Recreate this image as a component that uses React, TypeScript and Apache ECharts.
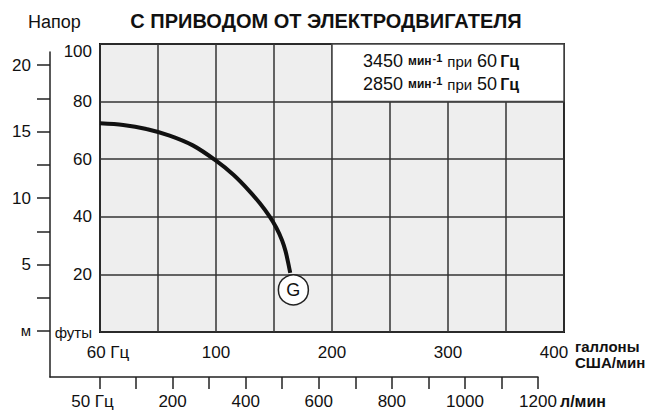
import React, { useEffect, useRef } from "react";
import * as echarts from "echarts";

const FONT = '"Liberation Sans", Arial, Helvetica, sans-serif';

// Upper (60 Hz) scales
const gallonLabelValues = [0, 100, 200, 300, 400];
const feetLabelValues = [0, 20, 40, 60, 80, 100];
// Lower / left (50 Hz) scales
const literTicks = [0, 100, 200, 300, 400, 500, 600, 700, 800, 900, 1000, 1100, 1200];
const literLabels = [0, 200, 400, 600, 800, 1000, 1200];
const meterTicks = [0, 2.5, 5, 7.5, 10, 12.5, 15, 17.5, 20];
const meterLabels = [0, 5, 10, 15, 20];

// Pump curve G (US gal/min, feet)
const curveGallons = [0, 20, 40, 60, 80, 100, 115, 128, 138, 146, 152, 157, 160, 162.5, 164];
const curveFeet = [72.5, 71.9, 70.5, 68.2, 64.8, 59.5, 54.6, 49.3, 44.6, 40.2, 36.2, 31.8, 28, 23.5, 20.5];
const curveName = "G";
const curveMarker = [166.7, 14.6];

const legendLines = [
  { rpm: "3450", hz: "60" },
  { rpm: "2850", hz: "50" },
];

export default function App() {
  const ref = useRef<HTMLDivElement>(null);
  useEffect(() => {
    if (!ref.current) return;
    const chart = echarts.init(ref.current, null, { renderer: "svg" });
    const txt = { fontFamily: FONT, color: "#111" };
    const legendText = legendLines
      .map((l) => `{n|${l.rpm}} {u|мин}{s|-1} {p|при} {n|${l.hz}}{h|Гц}`)
      .join("\n");
    const option: any = {
      animation: false,
      backgroundColor: "#ffffff",
      textStyle: { fontFamily: FONT },
      grid: [
        { left: 100, right: 85, top: 44, bottom: 78, show: true, backgroundColor: "#eeeeee", borderColor: "#111", borderWidth: 2 },
        { left: 50, right: 111, top: 52, bottom: 33, show: false },
      ],
      xAxis: [
        {
          gridIndex: 0, type: "value", min: 0, max: 400, interval: 50,
          axisLine: { show: false }, axisTick: { show: false },
          splitLine: { show: true, lineStyle: { color: "#333", width: 1.5 } },
          axisLabel: {
            ...txt, fontSize: 17, margin: 12,
            formatter: (v: number) => {
              if (!gallonLabelValues.includes(v)) return "";
              if (v === 0) return "{a|60 Гц}";
              if (v === 400) return "{b|400}";
              return String(v);
            },
            rich: {
              a: { ...txt, fontSize: 17, padding: [0, 0, 0, 16] },
              b: { ...txt, fontSize: 17, padding: [0, 20, 0, 0] },
            },
          },
        },
        {
          gridIndex: 1, type: "value", min: -135.5, max: 1200, position: "bottom",
          axisLine: { show: true, onZero: false, lineStyle: { color: "#222", width: 1.5 } },
          axisTick: { show: true, customValues: literTicks, length: 12, lineStyle: { color: "#222", width: 1.5 } },
          splitLine: { show: false },
          axisLabel: {
            ...txt, fontSize: 17, margin: 16, customValues: literLabels,
            formatter: (v: number) => (v === 0 ? "{a|50 Гц}" : String(v)),
            rich: { a: { ...txt, fontSize: 17, padding: [0, 14, 0, 0] } },
          },
        },
      ],
      yAxis: [
        {
          gridIndex: 0, type: "value", min: 0, max: 100, interval: 20,
          axisLine: { show: false }, axisTick: { show: false },
          splitLine: { show: true, lineStyle: { color: "#333", width: 1.5 } },
          axisLabel: {
            ...txt, fontSize: 17, margin: 8,
            formatter: (v: number) => {
              if (!feetLabelValues.includes(v)) return "";
              if (v === 0) return "{f|футы}";
              if (v === 100) return "{t|100}";
              return String(v);
            },
            rich: {
              f: { ...txt, fontSize: 15 },
              t: { ...txt, fontSize: 17, padding: [14, 0, 0, 0] },
            },
          },
        },
        {
          gridIndex: 1, type: "value", min: -3.46, max: 20.98, position: "left",
          axisLine: { show: true, onZero: false, lineStyle: { color: "#222", width: 1.5 } },
          axisTick: { show: true, customValues: meterTicks, length: 13, lineStyle: { color: "#222", width: 1.5 } },
          splitLine: { show: false },
          axisLabel: {
            ...txt, fontSize: 17, margin: 19, customValues: meterLabels,
            formatter: (v: number) => (v === 0 ? "{m|м}" : String(v)),
            rich: { m: { ...txt, fontSize: 15 } },
          },
        },
      ],
      series: [
        {
          type: "line", name: curveName, xAxisIndex: 0, yAxisIndex: 0,
          data: curveGallons.map((g, i) => [g, curveFeet[i]]),
          smooth: 0.3, symbol: "none", z: 3,
          lineStyle: { color: "#111", width: 4 },
          markArea: {
            silent: true,
            itemStyle: { color: "#ffffff", borderColor: "#444", borderWidth: 1.5 },
            label: {
              show: true, position: "inside", ...txt, fontSize: 18, lineHeight: 23,
              padding: [0, 14, 0, 0],
              formatter: legendText,
              rich: {
                n: { ...txt, fontSize: 18, lineHeight: 23 },
                u: { ...txt, fontSize: 12, fontWeight: "bold", lineHeight: 23 },
                s: { ...txt, fontSize: 11, fontWeight: "bold", lineHeight: 11, verticalAlign: "top", padding: [3, 0, 0, 1] },
                p: { ...txt, fontSize: 15, lineHeight: 23 },
                h: { ...txt, fontSize: 16, fontWeight: "bold", lineHeight: 23, padding: [0, 0, 0, 3] },
              },
            },
            data: [[{ coord: [200, 80] }, { coord: [400, 100] }]],
          },
        },
        {
          type: "scatter", xAxisIndex: 0, yAxisIndex: 0, z: 4,
          data: [curveMarker], symbol: "circle", symbolSize: 30,
          itemStyle: { color: "#ffffff", borderColor: "#222", borderWidth: 1.5, opacity: 1 },
          label: { show: true, position: "inside", formatter: curveName, ...txt, fontSize: 18 },
        },
      ],
      graphic: [
        { type: "text", x: 28, y: 22, style: { text: "Напор", fill: "#111", font: `18px ${FONT}`, align: "left", verticalAlign: "middle" } },
        { type: "text", x: 326, y: 21, style: { text: "С ПРИВОДОМ ОТ ЭЛЕКТРОДВИГАТЕЛЯ", fill: "#111", font: `bold 20px ${FONT}`, align: "center", verticalAlign: "middle" } },
        { type: "text", x: 575, y: 346, style: { text: "галлоны", fill: "#111", font: `bold 15px ${FONT}`, align: "left", verticalAlign: "middle" } },
        { type: "text", x: 575, y: 362, style: { text: "США/мин", fill: "#111", font: `bold 15px ${FONT}`, align: "left", verticalAlign: "middle" } },
        { type: "text", x: 560, y: 401, style: { text: "л/мин", fill: "#111", font: `bold 16px ${FONT}`, align: "left", verticalAlign: "middle" } },
      ],
    };
    chart.setOption(option);
    return () => chart.dispose();
  }, []);
  return <div ref={ref} style={{ position: "fixed", left: 0, top: 0, width: 649, height: 410 }} />;
}
